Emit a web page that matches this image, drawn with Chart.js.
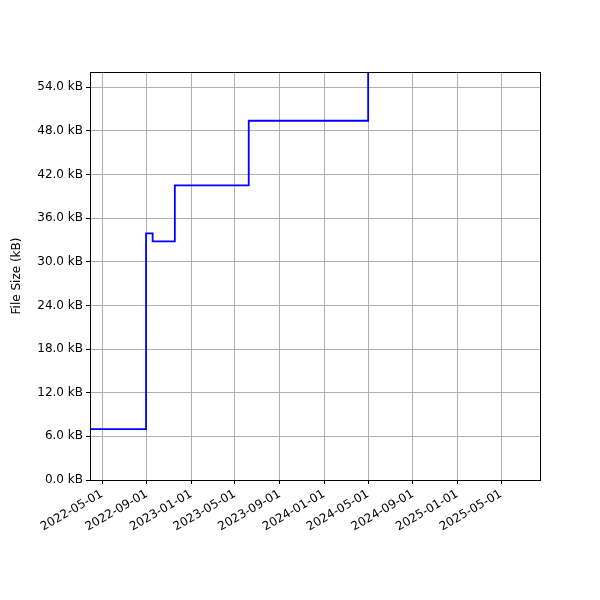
<!DOCTYPE html><html><head><script src="https://cdn.jsdelivr.net/npm/chart.js@4"></script>
<style>body{margin:0;background:#fff}</style></head><body>
<canvas id="c" width="600" height="600" style="width:600px;height:600px"></canvas>
<script>
const dates=["2022-01-01","2022-08-30","2022-09-17","2022-11-17","2023-06-08","2024-05-01"];
const sizes=[7.0,33.9,32.8,40.5,49.4,60.0];
const tickDates=["2022-05-01","2022-09-01","2023-01-01","2023-05-01","2023-09-01","2024-01-01","2024-05-01","2024-09-01","2025-01-01","2025-05-01"];
const yTicks=[0,6,12,18,24,30,36,42,48,54];
const ts=d=>Date.parse(d+"T00:00:00Z");
const pad=n=>String(n).padStart(2,"0");
const fmt=v=>{const d=new Date(v);return d.getUTCFullYear()+"-"+pad(d.getUTCMonth()+1)+"-"+pad(d.getUTCDate());};
new Chart(document.getElementById("c"),{type:"line",
data:{datasets:[{data:dates.map((d,i)=>({x:ts(d),y:sizes[i]})),borderColor:"#0000ff",borderWidth:1.8,pointRadius:0,stepped:"before",fill:false}]},
options:{responsive:false,animation:false,devicePixelRatio:1,
layout:{padding:{left:6,top:72,right:60,bottom:0}},
plugins:{legend:{display:false},tooltip:{enabled:false}},
scales:{
x:{type:"linear",min:ts("2022-03-29"),max:ts("2025-08-16"),
afterBuildTicks:s=>{s.ticks=tickDates.map(d=>({value:ts(d)}));},
afterFit:s=>{s.height=120;},
ticks:{callback:v=>fmt(v),minRotation:30,maxRotation:30,color:"#000",font:{family:"DejaVu Sans",size:12}},
grid:{color:"#b0b0b0",tickColor:"#000",tickLength:4},border:{color:"#000"}},
y:{min:0,max:56.1,
afterBuildTicks:s=>{s.ticks=yTicks.map(v=>({value:v}));},
afterFit:s=>{s.width=84;},
ticks:{callback:v=>v.toFixed(1)+" kB",color:"#000",font:{family:"DejaVu Sans",size:12}},
title:{display:true,text:"File Size (kB)",color:"#000",font:{family:"DejaVu Sans",size:12}},
grid:{color:"#b0b0b0",tickColor:"#000",tickLength:4},border:{color:"#000"}}}},
plugins:[{id:"frame",afterDraw(c){const a=c.chartArea,x=c.ctx;x.save();x.strokeStyle="#000";x.lineWidth=1;x.strokeRect(a.left+.5,a.top+.5,a.width,a.height);x.restore();}}]
});
</script></body></html>
